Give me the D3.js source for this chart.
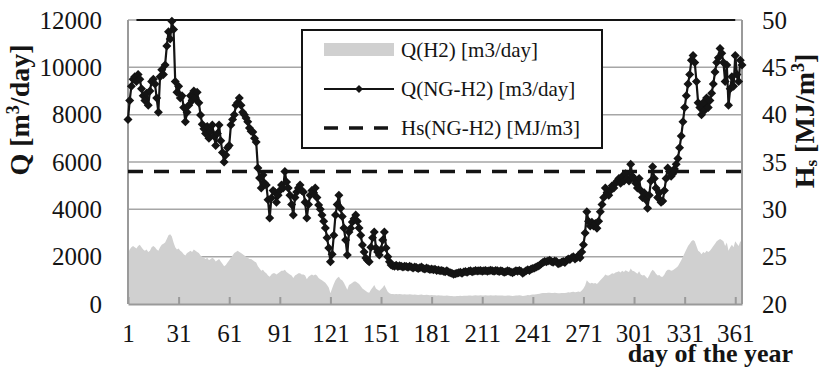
<!DOCTYPE html>
<html>
<head>
<meta charset="utf-8">
<script src="https://cdn.jsdelivr.net/npm/d3@7"></script>
<style>
  html, body { margin: 0; padding: 0; background: #fff; }
  svg { display: block; font-family: "Liberation Serif", "Times New Roman", serif; }
</style>
</head>
<body>
<svg id="chart" width="824" height="371"></svg>
<script>
// ---------------- DATA ----------------
const dayTicks = [1, 31, 61, 91, 121, 151, 181, 211, 241, 271, 301, 331, 361];
const qTicks = [0, 2000, 4000, 6000, 8000, 10000, 12000];
const hsTicks = [20, 25, 30, 35, 40, 45, 50];

// Q(NG-H2) [m3/day], day 1..365
const qNGH2 = [
  7800, 8600, 9200, 9500, 9600, 9400, 9700, 9500, 9100, 8800,
  8600, 8900, 8400, 9000, 9400, 9500, 9300, 8700, 8100, 9600,
  9900, 9700, 10100, 10900, 11500, 11200, 11950, 11600, 9400, 8950,
  9200, 8700, 8800, 8300, 7700, 8100, 8400, 8800, 8600, 9000,
  8700, 8950, 8500, 7990, 7600, 7400, 7200, 7500, 7000, 7300,
  7560, 7100, 6700, 7200, 7560, 6900, 6400, 6000, 6300, 6600,
  6700, 7560, 7800, 8000, 8400, 8500, 8700, 8400, 8100, 8000,
  7860, 7700, 7440, 7300, 7270, 7000, 6840, 5750, 5320, 4900,
  5450, 5100, 5030, 4400, 3630, 4480, 4800, 4730, 4300, 4600,
  4800, 5030, 4900, 5600, 5150, 4900, 4600, 4200, 3760, 4500,
  4730, 4900, 5030, 4800, 4730, 4300, 3630, 4200, 4600, 4800,
  4700, 4900, 4500, 4180, 4000, 3760, 3500, 3210, 2800, 2370,
  1780, 2100, 2900, 3760, 4200, 4600, 4050, 3700, 3210, 2700,
  2070, 3040, 3200, 3460, 3600, 3760, 3500, 3210, 2900, 2490,
  2200, 1940, 1850, 1780, 2400, 2800, 3040, 2370, 2200, 2070,
  2300, 2700, 3040, 2370, 2000, 1780, 1650, 1620, 1600, 1640,
  1580, 1620, 1600, 1560, 1600, 1580, 1550, 1600, 1560, 1520,
  1560, 1540, 1500, 1530, 1560, 1500, 1480, 1520, 1490, 1460,
  1480, 1450, 1470, 1420, 1440, 1400, 1420, 1380, 1360, 1400,
  1350, 1320, 1300, 1260, 1280, 1300, 1320, 1340, 1300, 1350,
  1370, 1340, 1380, 1400, 1360, 1380, 1420, 1390, 1400, 1420,
  1380, 1400, 1420, 1380, 1400, 1430, 1400, 1380, 1420, 1400,
  1370, 1400, 1380, 1340, 1360, 1400, 1380, 1350, 1320, 1360,
  1400, 1380, 1420, 1380, 1300, 1350, 1400, 1450, 1420, 1480,
  1500, 1520, 1560, 1600, 1640, 1700, 1750, 1800, 1780, 1820,
  1850, 1800, 1760, 1820, 1800, 1700, 1720, 1760, 1800, 1750,
  1850, 1900, 1880, 1950, 2000, 1900, 1950, 2050, 1950, 2200,
  2500, 3000, 3900, 3500, 3300, 3450, 3300, 3400, 3200, 3500,
  3900, 4200, 4500, 4900, 4700, 4600, 4800, 5000, 4900, 5100,
  5200, 5300, 5100, 5400, 5200, 5500, 5300, 5200, 5900, 5400,
  5300, 5100, 4900, 5300, 4800, 4500, 4700, 4400, 4050, 4600,
  5200, 5800, 5300, 4900, 4500, 4700, 4300, 4350, 4800, 5300,
  5750, 5600, 5400, 5500, 5700, 5900, 6150, 6600, 7100, 7700,
  8300, 8800, 9300, 9700, 10300, 10500, 10200, 9400, 8500, 8300,
  8000, 8500, 8200, 8700, 8300, 8600, 8900, 9300, 9800, 10200,
  10400, 10800, 10600, 10200, 9400, 10100, 8400, 9100, 9600, 9200,
  10500, 9700, 9400, 10300, 10100
];

// Q(H2) [m3/day], day 1..365
const qH2 = [
  2150, 2300, 2400, 2450, 2400, 2350, 2450, 2500, 2400, 2300,
  2250, 2300, 2200, 2250, 2400, 2450, 2400, 2300, 2250, 2400,
  2500, 2550, 2600, 2750, 2900, 2950, 2850, 2600, 2400, 2300,
  2350, 2250, 2200, 2100, 2050, 2150, 2200, 2250, 2200, 2300,
  2250, 2200, 2150, 2050, 2000, 1950, 1900, 1950, 1850, 1900,
  1950, 1900, 1800, 1850, 1900, 1800, 1700, 1600, 1650, 1750,
  1850, 1950, 2050, 2150, 2200, 2250, 2200, 2150, 2100, 2050,
  2000, 1950, 1900, 1900, 1850, 1800, 1750, 1600, 1500, 1400,
  1450, 1350, 1300, 1200, 1150, 1250, 1300, 1300, 1250, 1300,
  1350, 1400, 1400, 1450, 1350, 1300, 1250, 1200, 1100, 1200,
  1250, 1300, 1300, 1250, 1250, 1200, 1050, 1150, 1200, 1250,
  1200, 1250, 1200, 1100, 1050, 1000, 950, 900, 800, 700,
  450, 650, 850, 1000, 1100, 1150, 1050, 1000, 900, 750,
  600, 800, 850, 900, 950, 950, 900, 850, 750, 650,
  600, 550, 500, 480, 600, 700, 800, 650, 600, 560,
  620, 700, 800, 650, 520, 450, 420, 420, 410, 420,
  410, 420, 410, 400, 410, 400, 400, 410, 400, 390,
  400, 390, 380, 390, 400, 380, 380, 390, 380, 370,
  380, 370, 370, 360, 370, 360, 360, 350, 350, 360,
  350, 340, 340, 330, 330, 340, 340, 350, 340, 350,
  350, 350, 360, 360, 350, 360, 370, 360, 360, 370,
  360, 360, 370, 360, 360, 370, 360, 360, 370, 360,
  360, 360, 360, 350, 350, 360, 360, 350, 340, 350,
  360, 360, 370, 360, 340, 350, 360, 380, 370, 390,
  400, 400, 410, 420, 430, 450, 460, 470, 470, 480,
  480, 470, 460, 480, 470, 450, 450, 460, 470, 460,
  480, 500, 490, 510, 520, 500, 510, 530, 510, 570,
  650, 780, 1000, 920, 870, 900, 870, 890, 840, 920,
  1000, 1080, 1150, 1250, 1200, 1200, 1250, 1300, 1280, 1330,
  1350, 1380, 1330, 1400, 1350, 1430, 1380, 1350, 1500, 1400,
  1380, 1330, 1280, 1380, 1250, 1200, 1230, 1150, 1080, 1200,
  1350, 1450, 1380, 1280, 1200, 1230, 1150, 1150, 1250, 1380,
  1450, 1450, 1400, 1430, 1480, 1530, 1600, 1720, 1850, 2000,
  2150, 2300, 2450, 2550, 2650, 2700, 2650, 2450, 2250, 2200,
  2100, 2200, 2150, 2250, 2200, 2250, 2350, 2450, 2550, 2650,
  2700, 2750, 2700, 2650, 2450, 2600, 2250, 2400, 2500, 2400,
  2650, 2550, 2450, 2650, 2600
];

// Hs(NG-H2) [MJ/m3] (constant over the year)
const hsDays = [1, 365];
const hsValues = [34, 34];

const legendLabels = ["Q(H2) [m3/day]", "Q(NG-H2) [m3/day]", "Hs(NG-H2) [MJ/m3]"];

// ---------------- CHART ----------------
const svg = d3.select("#chart");
const L = 128, R = 742, T = 20, B = 304;
const ink = "#141414";
const FONT = "Liberation Serif";

const x = d3.scaleLinear().domain([1, 365]).range([L, R]);
const yQ = d3.scaleLinear().domain([0, 12000]).range([B, T]);
const yH = d3.scaleLinear().domain([20, 50]).range([B, T]);

const days = qNGH2.map((_, i) => i + 1);

// gridlines
svg.append("g").selectAll("line").data(qTicks.slice(1)).join("line")
  .attr("x1", L).attr("x2", R)
  .attr("y1", d => yQ(d)).attr("y2", d => yQ(d))
  .attr("stroke", "#a6a6a6").attr("stroke-width", 1.5);

// area Q(H2)
const area = d3.area().x((d, i) => x(days[i])).y0(yQ(0)).y1(d => yQ(d));
svg.append("path").datum(qH2).attr("d", area).attr("fill", "#d0d0d0");

// top black line (frame)
svg.append("line").attr("x1", x(6)).attr("x2", x(361)).attr("y1", yQ(12000)).attr("y2", yQ(12000))
  .attr("stroke", ink).attr("stroke-width", 2);

// axes frame lines
svg.append("line").attr("x1", L).attr("x2", L).attr("y1", T).attr("y2", B).attr("stroke", "#9a9a9a").attr("stroke-width", 2);
svg.append("line").attr("x1", R).attr("x2", R).attr("y1", T).attr("y2", B).attr("stroke", "#9a9a9a").attr("stroke-width", 2);

// Hs dashed line
const hsLine = d3.line().x((d, i) => x(hsDays[i])).y(d => yH(d));
svg.append("path").datum(hsValues).attr("d", hsLine)
  .attr("fill", "none").attr("stroke", ink).attr("stroke-width", 3.5)
  .attr("stroke-dasharray", "15,11");

// Q(NG-H2) line + diamonds
const ngLine = d3.line().x((d, i) => x(days[i])).y(d => yQ(d));
svg.append("path").datum(qNGH2).attr("d", ngLine)
  .attr("fill", "none").attr("stroke", ink).attr("stroke-width", 2.2);
const diamond = "M0,-4.5L4.5,0L0,4.5L-4.5,0Z";
svg.append("g").selectAll("path").data(qNGH2).join("path")
  .attr("d", diamond)
  .attr("transform", (d, i) => `translate(${x(days[i])},${yQ(d)})`)
  .attr("fill", ink);

// bottom axis
const xAxis = d3.axisBottom(x).tickValues(dayTicks).tickFormat(d3.format("d"))
  .tickSizeInner(-7).tickSizeOuter(0).tickPadding(20);
const gx = svg.append("g").attr("transform", `translate(0,${B})`).call(xAxis);
gx.select(".domain").attr("stroke", "#9a9a9a").attr("stroke-width", 2);
gx.selectAll(".tick line").attr("stroke", "#9a9a9a").attr("stroke-width", 2);
gx.selectAll("text").attr("font-size", 25).attr("font-family", FONT).attr("fill", ink);

// left axis
const yAxisL = d3.axisLeft(yQ).tickValues(qTicks).tickFormat(d3.format("d")).tickSize(0).tickPadding(26);
const gyl = svg.append("g").attr("transform", `translate(${L},0)`).call(yAxisL);
gyl.select(".domain").remove();
gyl.selectAll("text").attr("font-size", 25).attr("font-family", FONT).attr("fill", ink);

// right axis
const yAxisR = d3.axisRight(yH).tickValues(hsTicks).tickFormat(d3.format("d")).tickSize(0).tickPadding(20);
const gyr = svg.append("g").attr("transform", `translate(${R},0)`).call(yAxisR);
gyr.select(".domain").remove();
gyr.selectAll("text").attr("font-size", 25).attr("font-family", FONT).attr("fill", ink);

// axis titles
const tl = svg.append("text").attr("transform", "translate(29,110) rotate(-90)")
  .attr("text-anchor", "middle").attr("font-size", 28).attr("font-weight", "bold")
  .attr("font-family", FONT).attr("fill", ink);
tl.append("tspan").text("Q [m");
tl.append("tspan").attr("font-size", 18).attr("dy", -10).text("3");
tl.append("tspan").attr("dy", 10).text("/day]");

const tr = svg.append("text").attr("transform", "translate(814,121) rotate(-90)")
  .attr("text-anchor", "middle").attr("font-size", 28).attr("font-weight", "bold")
  .attr("font-family", FONT).attr("fill", ink);
tr.append("tspan").text("H");
tr.append("tspan").attr("font-size", 17).attr("dy", 3).text("s");
tr.append("tspan").attr("dy", -3).text(" [MJ/m");
tr.append("tspan").attr("font-size", 18).attr("dy", -10).text("3");
tr.append("tspan").attr("dy", 10).text("]");

svg.append("text").attr("x", 793).attr("y", 362).attr("text-anchor", "end")
  .attr("font-size", 26).attr("font-weight", "bold").attr("font-family", FONT)
  .attr("fill", ink).text("day of the year");

// legend
const lg = svg.append("g");
lg.append("rect").attr("x", 302).attr("y", 30).attr("width", 300).attr("height", 118)
  .attr("fill", "#fff").attr("stroke", ink).attr("stroke-width", 2);
const rowsY = [50, 89, 128];
lg.append("rect").attr("x", 324).attr("y", rowsY[0] - 7).attr("width", 70).attr("height", 13).attr("fill", "#d0d0d0");
lg.append("line").attr("x1", 324).attr("x2", 394).attr("y1", rowsY[1]).attr("y2", rowsY[1]).attr("stroke", ink).attr("stroke-width", 2);
lg.append("path").attr("d", "M0,-4L4,0L0,4L-4,0Z").attr("transform", `translate(359,${rowsY[1]})`).attr("fill", ink);
lg.append("line").attr("x1", 324).attr("x2", 394).attr("y1", rowsY[2]).attr("y2", rowsY[2]).attr("stroke", ink).attr("stroke-width", 3.5).attr("stroke-dasharray", "14,11");
lg.selectAll("text.lab").data(legendLabels).join("text").attr("class", "lab")
  .attr("x", 401).attr("y", (d, i) => rowsY[i]).attr("dy", "0.35em")
  .attr("font-size", 21).attr("font-family", FONT).attr("fill", ink).text(d => d);
</script>
</body>
</html>
